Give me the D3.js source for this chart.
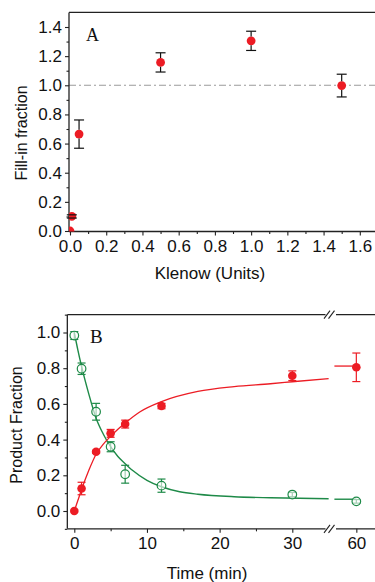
<!DOCTYPE html>
<html><head><meta charset="utf-8">
<script src="https://cdn.jsdelivr.net/npm/d3@7"></script>
<style>
html,body{margin:0;padding:0;background:#fff;}
svg{display:block;}
text{font-family:Arial,"Liberation Sans",sans-serif;fill:#111;}
</style></head>
<body>
<svg id="chart" width="375" height="582"></svg>
<script>
// ---------- Panel A data ----------
const klenowUnits = [0, 0.01, 0.05, 0.5, 1.0, 1.5];
const fillIn      = [0, 0.10, 0.665, 1.157, 1.305, 0.998];
const fillInErr   = [0, 0.011, 0.097, 0.066, 0.066, 0.078];
const xTicksA = [0, 0.2, 0.4, 0.6, 0.8, 1.0, 1.2, 1.4, 1.6];
const yTicksA = [0, 0.2, 0.4, 0.6, 0.8, 1.0, 1.2, 1.4];
const refLineA = 1.0;

// ---------- Panel B data ----------
const timeMin        = [0, 1, 3, 5, 7, 12, 30, 60];
const productRed     = [0, 0.126, 0.332, 0.435, 0.487, 0.588, 0.758, 0.805];
const productRedErr  = [0, 0.035, 0.008, 0.022, 0.022, 0.015, 0.027, 0.080];
const substrateGreen = [0.983, 0.797, 0.556, 0.360, 0.206, 0.142, 0.092, 0.054];
const substrateErr   = [0.022, 0.032, 0.047, 0.028, 0.050, 0.037, 0.012, 0.010];
// fitted curves
const fitTimeRed   = [0, 0.5, 1, 2, 3, 4, 5, 6, 7, 9, 12, 17, 22, 27, 30, 35];
const fitRed       = [0, 0.06, 0.12, 0.228, 0.318, 0.375, 0.418, 0.458, 0.493, 0.555, 0.613, 0.67, 0.697, 0.713, 0.724, 0.742];
const fitTimeGreen = [0, 0.5, 1, 2, 3, 4, 5, 6, 7, 8, 10, 12, 14.5, 17, 22, 27, 35];
const fitGreen     = [1.0, 0.9, 0.81, 0.655, 0.52, 0.43, 0.36, 0.305, 0.265, 0.228, 0.172, 0.136, 0.108, 0.094, 0.080, 0.074, 0.069];
const fitTimeAfterBreak = [55.3, 60];
const fitRedAfterBreak  = [0.812, 0.812];
const fitGreenAfterBreak = [0.066, 0.066];
const xTicksB1 = [0, 10, 20, 30];
const xMinorB1 = [5, 15, 25];
const xTicksB2 = [60];
const yTicksB = [0, 0.2, 0.4, 0.6, 0.8, 1.0];

const RED = "#ec1c24", GREEN = "#1e8a48", AX = "#222";
const svg = d3.select("#chart");
const fmt = d3.format(".1f");

// ================= Panel A =================
const xA = d3.scaleLinear().domain([0, 1.6]).range([70, 359.8]);
const yA = d3.scaleLinear().domain([0, 1.4]).range([231, 27]);
const gA = svg.append("g");
const leftA = 69, rightA = 375, topA = yA(1.5), botA = 231.5;

svg.append("clipPath").attr("id","clipA").append("rect")
  .attr("x", leftA).attr("y", topA).attr("width", rightA-leftA).attr("height", botA-topA);

// reference line
gA.append("line").attr("x1", leftA).attr("x2", rightA)
  .attr("y1", yA(refLineA)).attr("y2", yA(refLineA))
  .attr("stroke", "#9a9a9a").attr("stroke-width", 1.1).attr("stroke-dasharray", "7,3,2,3");

// axes
const axA_left = d3.axisLeft(yA).tickValues(yTicksA).tickFormat(fmt).tickSize(4).tickPadding(3);
const axA_leftMinor = d3.axisLeft(yA).tickValues(d3.range(0.1, 1.5, 0.2)).tickFormat("").tickSize(2.5);
const axA_bot = d3.axisBottom(xA).tickValues(xTicksA).tickFormat(fmt).tickSize(4).tickPadding(4);
const axA_botMinor = d3.axisBottom(xA).tickValues(d3.range(0.1, 1.75, 0.2)).tickFormat("").tickSize(2.5);

function styleAxis(g){
  g.select(".domain").remove();
  g.selectAll("line").attr("stroke", AX).attr("stroke-width", 1.1);
  g.selectAll("text").attr("font-size", 17).attr("fill", "#111").style("font-family","Arial, 'Liberation Sans', sans-serif");
}
gA.append("g").attr("transform", `translate(${leftA},0)`).call(axA_left).call(styleAxis);
gA.append("g").attr("transform", `translate(${leftA},0)`).call(axA_leftMinor).call(styleAxis);
gA.append("g").attr("transform", `translate(0,${botA})`).call(axA_bot).call(styleAxis);
gA.append("g").attr("transform", `translate(0,${botA})`).call(axA_botMinor).call(styleAxis);
// frame lines
gA.append("line").attr("x1", leftA).attr("x2", leftA).attr("y1", topA).attr("y2", botA).attr("stroke", AX).attr("stroke-width", 1.3);
gA.append("line").attr("x1", leftA).attr("x2", rightA).attr("y1", botA).attr("y2", botA).attr("stroke", AX).attr("stroke-width", 1.3);
gA.append("line").attr("x1", leftA).attr("x2", rightA).attr("y1", topA).attr("y2", topA).attr("stroke", AX).attr("stroke-width", 1.3);

const dataA = klenowUnits.map((x,i)=>({x, y: fillIn[i], e: fillInErr[i]}));
const rA = 4.4;
const ptsA = gA.append("g").attr("clip-path","url(#clipA)");
ptsA.selectAll("circle").data(dataA).join("circle")
  .attr("cx", d=>xA(d.x)).attr("cy", d=>yA(d.y)).attr("r", rA).attr("fill", RED);
// error bars (on top, vertical part outside the dot)
const ebA = gA.append("g").attr("stroke", "#111").attr("stroke-width", 1.2);
dataA.filter(d=>d.e>0).forEach(d=>{
  const cx = xA(d.x), yt = yA(d.y+d.e), yb = yA(d.y-d.e), cy = yA(d.y);
  if (cy - yt > rA) {
    ebA.append("line").attr("x1",cx).attr("x2",cx).attr("y1",yt).attr("y2",cy-rA);
    ebA.append("line").attr("x1",cx).attr("x2",cx).attr("y1",cy+rA).attr("y2",yb);
  }
  ebA.append("line").attr("x1",cx-5).attr("x2",cx+5).attr("y1",yt).attr("y2",yt);
  ebA.append("line").attr("x1",cx-5).attr("x2",cx+5).attr("y1",yb).attr("y2",yb);
});

gA.append("text").attr("x", 86).attr("y", 41).text("A")
  .attr("font-size", 18).style("font-family","'Liberation Serif','DejaVu Serif',serif");
gA.append("text").attr("transform","translate(27,133) rotate(-90)").attr("text-anchor","middle")
  .attr("font-size", 16).text("Fill-in fraction");
gA.append("text").attr("x", 210).attr("y", 279).attr("text-anchor","middle")
  .attr("font-size", 17).text("Klenow (Units)");

// ================= Panel B =================
const xB = d3.scaleLinear().domain([0, 30]).range([74.3, 292.3]);
const xB2 = d3.scaleLinear().domain([55, 64]).range([333, 375]);
const yB = d3.scaleLinear().domain([0, 1]).range([511, 332.5]);
const gB = svg.append("g");
const leftB = xB(-0.96), topB = yB(1.1), botB = yB(-0.1), breakL = 325.5, breakR = 336, rightB = 375;

const axB_left = d3.axisLeft(yB).tickValues(yTicksB).tickFormat(fmt).tickSize(4).tickPadding(3);
const axB_leftMinor = d3.axisLeft(yB).tickValues([-0.1,0.1,0.3,0.5,0.7,0.9,1.1]).tickFormat("").tickSize(2.5);
const axB_bot1 = d3.axisBottom(xB).tickValues(xTicksB1).tickFormat(d3.format("d")).tickSize(4).tickPadding(4);
const axB_bot1Minor = d3.axisBottom(xB).tickValues(xMinorB1).tickFormat("").tickSize(2.5);
const axB_bot2 = d3.axisBottom(xB2).tickValues(xTicksB2).tickFormat(d3.format("d")).tickSize(4).tickPadding(4);
gB.append("g").attr("transform", `translate(${leftB},0)`).call(axB_left).call(styleAxis);
gB.append("g").attr("transform", `translate(${leftB},0)`).call(axB_leftMinor).call(styleAxis);
gB.append("g").attr("transform", `translate(0,${botB})`).call(axB_bot1).call(styleAxis);
gB.append("g").attr("transform", `translate(0,${botB})`).call(axB_bot1Minor).call(styleAxis);
gB.append("g").attr("transform", `translate(0,${botB})`).call(axB_bot2).call(styleAxis);

const frameB = gB.append("g").attr("stroke", AX).attr("stroke-width", 1.3).attr("fill","none");
frameB.append("line").attr("x1", leftB).attr("x2", leftB).attr("y1", topB).attr("y2", botB);
[topB, botB].forEach(yy=>{
  frameB.append("line").attr("x1", leftB).attr("x2", breakL).attr("y1", yy).attr("y2", yy);
  frameB.append("line").attr("x1", breakR).attr("x2", rightB).attr("y1", yy).attr("y2", yy);
  // break slashes
  [breakL+1, breakL+5.5].forEach(sx=>{
    frameB.append("line").attr("x1", sx-2.5).attr("x2", sx+3.5).attr("y1", yy+4).attr("y2", yy-4).attr("stroke-width",1.1);
  });
});

// curves
const lineB = d3.line().x(d=>xB(d[0])).y(d=>yB(d[1])).curve(d3.curveMonotoneX);
const lineB2 = d3.line().x(d=>xB2(d[0])).y(d=>yB(d[1]));
gB.append("path").attr("d", lineB(d3.zip(fitTimeGreen, fitGreen))).attr("fill","none").attr("stroke",GREEN).attr("stroke-width",1.4);
gB.append("path").attr("d", lineB(d3.zip(fitTimeRed, fitRed))).attr("fill","none").attr("stroke",RED).attr("stroke-width",1.3);
gB.append("path").attr("d", lineB2(d3.zip(fitTimeAfterBreak, fitGreenAfterBreak))).attr("fill","none").attr("stroke",GREEN).attr("stroke-width",1.4);
gB.append("path").attr("d", lineB2(d3.zip(fitTimeAfterBreak, fitRedAfterBreak))).attr("fill","none").attr("stroke",RED).attr("stroke-width",1.3);

const xPos = t => t > 40 ? xB2(t) : xB(t);
const rB = 4.3;
function errBars(vals, errs, color){
  const g = gB.append("g").attr("stroke", color).attr("stroke-width", 1.2);
  timeMin.forEach((t,i)=>{
    if (!(errs[i]>0)) return;
    const cx = xPos(t), cy = yB(vals[i]), yt = yB(vals[i]+errs[i]), yb = yB(vals[i]-errs[i]);
    g.append("line").attr("x1",cx).attr("x2",cx).attr("y1",yt).attr("y2",yb);
    g.append("line").attr("x1",cx-4).attr("x2",cx+4).attr("y1",yt).attr("y2",yt);
    g.append("line").attr("x1",cx-4).attr("x2",cx+4).attr("y1",yb).attr("y2",yb);
  });
}
errBars(substrateGreen, substrateErr, GREEN);
gB.append("g").selectAll("circle").data(timeMin).join("circle")
  .attr("cx", d=>xPos(d)).attr("cy", (d,i)=>yB(substrateGreen[i])).attr("r", rB)
  .attr("fill","#fff").attr("fill-opacity",0.6).attr("stroke", GREEN).attr("stroke-width", 1.2);
errBars(productRed, productRedErr, RED);
gB.append("g").selectAll("circle").data(timeMin).join("circle")
  .attr("cx", d=>xPos(d)).attr("cy", (d,i)=>yB(productRed[i])).attr("r", rB).attr("fill", RED);

gB.append("text").attr("x", 90).attr("y", 343).text("B")
  .attr("font-size", 19).style("font-family","'Liberation Serif','DejaVu Serif',serif");
gB.append("text").attr("transform","translate(22,425) rotate(-90)").attr("text-anchor","middle")
  .attr("font-size", 16).text("Product Fraction");
gB.append("text").attr("x", 207).attr("y", 579).attr("text-anchor","middle")
  .attr("font-size", 17).text("Time (min)");
</script>
</body></html>
